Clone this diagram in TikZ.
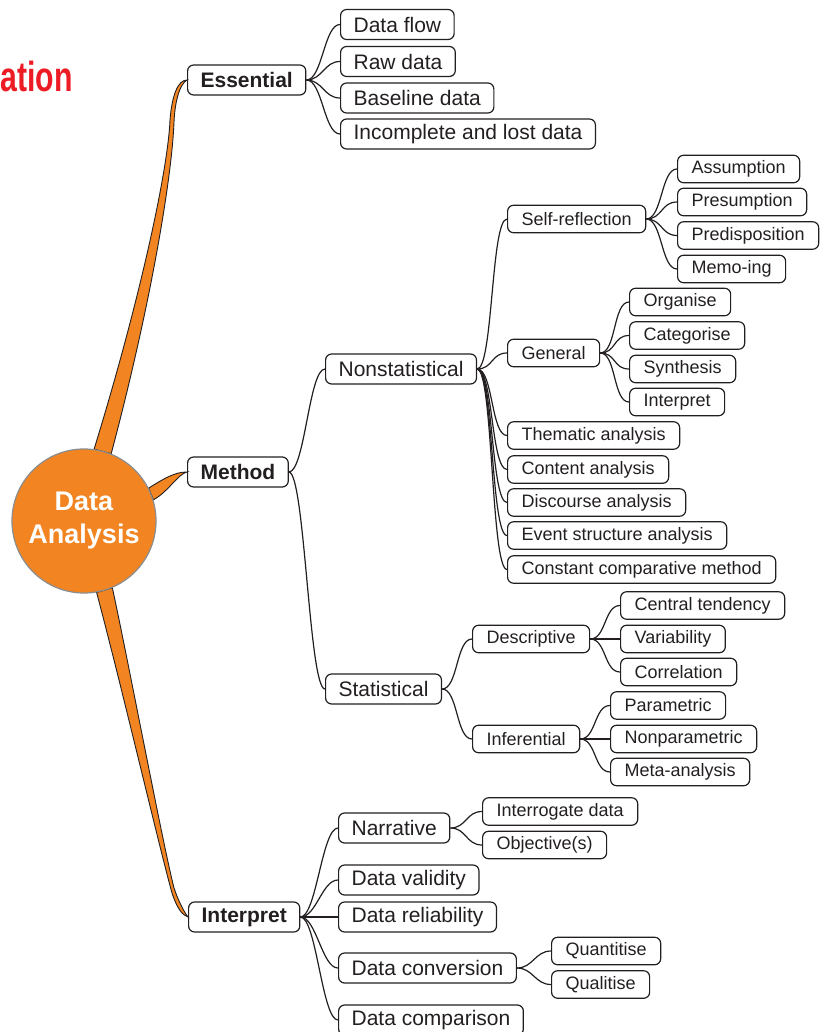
\documentclass[tikz,border=0pt]{standalone}
\usepackage{fontspec}
\setmainfont{Liberation Sans}
\usepackage{graphicx}
\usepackage{tikz}
\usetikzlibrary{backgrounds}

\definecolor{mapOrange}{HTML}{F28522}
\definecolor{titleRed}{HTML}{ED1C24}
\definecolor{ink}{HTML}{231F20}

\tikzset{
  box/.style={draw=ink, rounded corners=6pt, line width=1.2pt, text=ink, anchor=west,
    inner xsep=13pt, inner ysep=0pt, minimum height=30pt},
  big/.style={box, font=\fontsize{21}{25}\selectfont},
  head/.style={box, font=\fontsize{21}{25}\selectfont\bfseries},
  small/.style={box, inner xsep=14pt, minimum height=27.5pt, font=\fontsize{18}{22}\selectfont},
  link/.style={draw=ink, line width=1.2pt,
    to path={.. controls +(16,0) and +(-16,0) .. (\tikztotarget)}},
  band/.style={fill=mapOrange, draw=ink, line width=0.9pt}
}

\begin{document}
\begin{tikzpicture}[x=1pt, y=-1pt]
  \useasboundingbox (0,0) rectangle (819,1032);

  \node [anchor=base east, inner sep=0pt, text=titleRed, font=\fontsize{42}{42}\selectfont\bfseries] (title) at (73,92) {\scalebox{0.72}[1]{ation}};

  % centre
  \node [circle, fill=mapOrange, draw=black!45, line width=1.2pt, minimum size=144pt, inner sep=0pt,
    text=white, align=center, font=\fontsize{27}{33}\selectfont\bfseries] (root) at (84,521) {Data\\Analysis};

  % first level
  \node [head] (essential) at (187,80) {Essential};
  \node [head] (method) at (187,472) {Method};
  \node [head] (interpret) at (188,917) {Interpret};

  % essential
  \node [big] (flow) at (340,24.5) {Data flow};
  \node [big] (raw) at (340,61.5) {Raw data};
  \node [big] (baseline) at (340,98) {Baseline data};
  \node [big] (lost) at (340,134) {Incomplete and lost data};

  % method
  \node [big] (nonstat) at (325,369) {Nonstatistical};
  \node [big] (stat) at (325,689) {Statistical};

  \node [small] (selfref) at (507,219) {Self-reflection};
  \node [small] (general) at (507,353) {General};
  \node [small] (thematic) at (507,435.5) {Thematic analysis};
  \node [small] (content) at (507,469.5) {Content analysis};
  \node [small] (discourse) at (507,502.5) {Discourse analysis};
  \node [small] (event) at (507,535.5) {Event structure analysis};
  \node [small] (constant) at (507,569.5) {Constant comparative method};

  \node [small] (assumption) at (677,169) {Assumption};
  \node [small] (presumption) at (677,202) {Presumption};
  \node [small] (predisposition) at (677,235.5) {Predisposition};
  \node [small] (memoing) at (677,269) {Memo-ing};

  \node [small] (organise) at (629,302) {Organise};
  \node [small] (categorise) at (629,335.5) {Categorise};
  \node [small] (synthesis) at (629,369) {Synthesis};
  \node [small] (interpretgen) at (629,402) {Interpret};

  \node [small] (descriptive) at (472,639) {Descriptive};
  \node [small] (inferential) at (472,739) {Inferential};

  \node [small] (central) at (620,605.5) {Central tendency};
  \node [small] (variability) at (620,639) {Variability};
  \node [small] (correlation) at (620,672) {Correlation};

  \node [small] (parametric) at (610,705.5) {Parametric};
  \node [small] (nonparametric) at (610,739) {Nonparametric};
  \node [small] (meta) at (610,772) {Meta-analysis};

  % interpret
  \node [big] (narrative) at (338,828) {Narrative};
  \node [big] (validity) at (338,880) {Data validity};
  \node [big] (reliability) at (338,917) {Data reliability};
  \node [big] (conversion) at (338,968) {Data conversion};
  \node [big] (comparison) at (338,1020) {Data comparison};

  \node [small] (interrogate) at (482,811.5) {Interrogate data};
  \node [small] (objectives) at (482,845) {Objective(s)};
  \node [small] (quantitise) at (551,951) {Quantitise};
  \node [small] (qualitise) at (551,984.5) {Qualitise};

  % orange branches
  \begin{scope}[on background layer]
    \path [band] (root.82) .. controls (140,300) and (168,170) .. (170,120)
      .. controls (172,95) and (178,80) .. (essential.west)
      .. controls (180,84) and (175,100) .. (174,122)
      .. controls (172,175) and (152,300) .. (root.68) -- cycle;
    \path [band] (root.27) .. controls (165,478) and (175,472) .. (method.west)
      .. controls (178,474) and (168,492) .. (root.17) -- cycle;
    \path [band] (root.280) .. controls (120,680) and (160,850) .. (172,893)
      .. controls (177,908) and (182,915) .. (interpret.west)
      .. controls (184,912) and (178,900) .. (174,888)
      .. controls (163,845) and (128,660) .. (root.293) -- cycle;
  \end{scope}

  % connectors
  \draw [link] (essential.east) to (flow.west);
  \draw [link] (essential.east) to (raw.west);
  \draw [link] (essential.east) to (baseline.west);
  \draw [link] (essential.east) to (lost.west);

  \draw [link] (method.east) to (nonstat.west);
  \draw [link] (method.east) to (stat.west);

  \draw [link] (nonstat.east) to (selfref.west);
  \draw [link] (nonstat.east) to (general.west);
  \draw [link] (nonstat.east) to (thematic.west);
  \draw [link] (nonstat.east) to (content.west);
  \draw [link] (nonstat.east) to (discourse.west);
  \draw [link] (nonstat.east) to (event.west);
  \draw [link] (nonstat.east) to (constant.west);

  \draw [link] (selfref.east) to (assumption.west);
  \draw [link] (selfref.east) to (presumption.west);
  \draw [link] (selfref.east) to (predisposition.west);
  \draw [link] (selfref.east) to (memoing.west);

  \draw [link] (general.east) to (organise.west);
  \draw [link] (general.east) to (categorise.west);
  \draw [link] (general.east) to (synthesis.west);
  \draw [link] (general.east) to (interpretgen.west);

  \draw [link] (stat.east) to (descriptive.west);
  \draw [link] (stat.east) to (inferential.west);
  \draw [link] (descriptive.east) to (central.west);
  \draw [link] (descriptive.east) to (variability.west);
  \draw [link] (descriptive.east) to (correlation.west);
  \draw [link] (inferential.east) to (parametric.west);
  \draw [link] (inferential.east) to (nonparametric.west);
  \draw [link] (inferential.east) to (meta.west);

  \draw [link] (interpret.east) to (narrative.west);
  \draw [link] (interpret.east) to (validity.west);
  \draw [link] (interpret.east) to (reliability.west);
  \draw [link] (interpret.east) to (conversion.west);
  \draw [link] (interpret.east) to (comparison.west);
  \draw [link] (narrative.east) to (interrogate.west);
  \draw [link] (narrative.east) to (objectives.west);
  \draw [link] (conversion.east) to (quantitise.west);
  \draw [link] (conversion.east) to (qualitise.west);
\end{tikzpicture}
\end{document}
